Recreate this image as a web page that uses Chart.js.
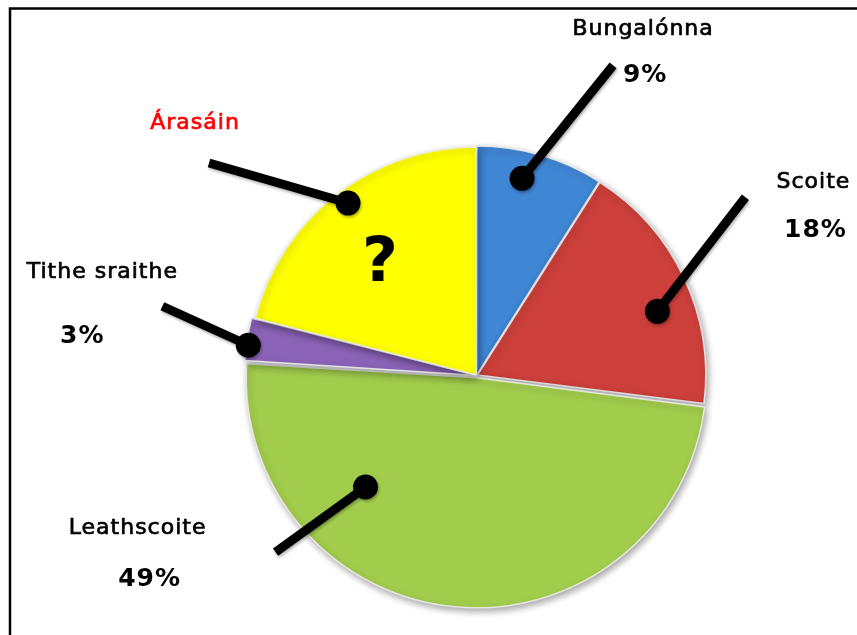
<!DOCTYPE html>
<html>
<head>
<meta charset="utf-8">
<script src="https://cdn.jsdelivr.net/npm/chart.js@4/dist/chart.umd.min.js"></script>
<style>
  html, body { margin: 0; padding: 0; background: #fff; }
  #wrap { width: 857px; height: 635px; position: relative; }
</style>
</head>
<body>
<div id="wrap"><canvas id="myChart" width="857" height="635"></canvas></div>
<script>
// Data (Árasáin is the unknown "?" slice, the rest of 100%)
const categories = ['Bungalónna', 'Scoite', 'Leathscoite', 'Tithe sraithe', 'Árasáin'];
const shares = [9, 18, 49, 3, 21];
const shareKnown = [true, true, true, true, false];

const sliceColors = ['#3f86d4', '#cc3f3a', '#a2cd4c', '#8a63b8', '#ffff00'];
const sliceOffsets = [4, 5, 9, 9, 3];

// Callout layout: where the dot sits in the slice (t along the angle, f of the radius),
// the leader line vector from the dot, and label offsets from the line end
const callouts = [
  { t: 0.40, f: 0.87, line: [91, -113], name: [30, -36], pct: [32, 10], color: '#000' },
  { t: 0.59, f: 0.82, line: [88, -114], name: [68, -15], pct: [70, 33], color: '#000' },
  { t: 0.736, f: 0.66, line: [-90, 65], name: [-138, -24], pct: [-126, 27], color: '#000' },
  { t: 0.36, f: 0.97, line: [-86, -39], name: [-60, -34], pct: [-80, 30], color: '#000' },
  { t: 0.515, f: 0.93, line: [-139, -40], name: [-14, -40], pct: null, color: '#ff0000' }
];

function arcPoint(arc, offset, t, f) {
  const mid = (arc.startAngle + arc.endAngle) / 2;
  const cx = arc.x + Math.cos(mid) * offset;
  const cy = arc.y + Math.sin(mid) * offset;
  const a = arc.startAngle + t * (arc.endAngle - arc.startAngle);
  return [cx + Math.cos(a) * arc.outerRadius * f, cy + Math.sin(a) * arc.outerRadius * f];
}

const framePlugin = {
  id: 'frame',
  beforeDraw(chart) {
    const ctx = chart.ctx;
    ctx.save();
    ctx.strokeStyle = '#000';
    ctx.lineWidth = 2.5;
    ctx.beginPath();
    ctx.moveTo(10, chart.height);
    ctx.lineTo(10, 8.5);
    ctx.lineTo(chart.width, 8.5);
    ctx.stroke();
    ctx.restore();
  }
};

const shadowPlugin = {
  id: 'sliceShadow',
  beforeDatasetDraw(chart) {
    const ctx = chart.ctx;
    ctx.save();
    ctx.shadowColor = 'rgba(0,0,0,0.35)';
    ctx.shadowBlur = 7;
    ctx.shadowOffsetX = 2;
    ctx.shadowOffsetY = 3;
  },
  afterDatasetDraw(chart) {
    chart.ctx.restore();
  }
};

function heavyText(ctx, text, x, y) {
  ctx.fillText(text, x, y);
  ctx.strokeText(text, x, y);
}

const calloutPlugin = {
  id: 'callouts',
  afterDatasetsDraw(chart) {
    const ctx = chart.ctx;
    const arcs = chart.getDatasetMeta(0).data;
    ctx.save();
    ctx.textAlign = 'center';
    ctx.textBaseline = 'middle';

    // question mark on the unknown slice
    arcs.forEach((arc, i) => {
      if (shareKnown[i]) return;
      const [qx, qy] = arcPoint(arc, sliceOffsets[i], 0.455, 0.63);
      ctx.fillStyle = '#000';
      ctx.font = 'bold 62px "DejaVu Sans"';
      ctx.fillText('?', qx, qy);
    });

    arcs.forEach((arc, i) => {
      const c = callouts[i];
      const [dx, dy] = arcPoint(arc, sliceOffsets[i], c.t, c.f);
      const ex = dx + c.line[0];
      const ey = dy + c.line[1];

      ctx.shadowColor = 'rgba(0,0,0,0.3)';
      ctx.shadowBlur = 3;
      ctx.shadowOffsetX = 1;
      ctx.shadowOffsetY = 2;
      ctx.strokeStyle = '#000';
      ctx.lineWidth = 9;
      ctx.lineCap = 'butt';
      ctx.beginPath();
      ctx.moveTo(dx, dy);
      ctx.lineTo(ex, ey);
      ctx.stroke();
      ctx.fillStyle = '#000';
      ctx.beginPath();
      ctx.arc(dx, dy, 12.5, 0, Math.PI * 2);
      ctx.fill();

      ctx.shadowColor = 'transparent';
      ctx.letterSpacing = '1px';
      ctx.fillStyle = c.color;
      ctx.strokeStyle = c.color;
      ctx.lineWidth = 0.7;
      ctx.font = '22px "DejaVu Sans"';
      heavyText(ctx, categories[i], ex + c.name[0], ey + c.name[1]);
      if (c.pct && shareKnown[i]) {
        ctx.fillStyle = '#000';
        ctx.font = 'bold 25px "DejaVu Sans"';
        ctx.fillText(shares[i] + '%', ex + c.pct[0], ey + c.pct[1]);
      }
      ctx.letterSpacing = '0px';
    });
    ctx.restore();
  }
};

new Chart(document.getElementById('myChart').getContext('2d'), {
  type: 'pie',
  data: {
    labels: categories,
    datasets: [{
      data: shares,
      backgroundColor: sliceColors,
      borderColor: 'rgba(235,235,235,0.9)',
      borderWidth: 1.5,
      offset: sliceOffsets,
      hoverOffset: 0
    }]
  },
  options: {
    responsive: false,
    animation: false,
    radius: 228,
    layout: { padding: { left: 96, right: 0, top: 116, bottom: 0 } },
    plugins: {
      legend: { display: false },
      tooltip: { enabled: false }
    }
  },
  plugins: [framePlugin, shadowPlugin, calloutPlugin]
});
</script>
</body>
</html>
